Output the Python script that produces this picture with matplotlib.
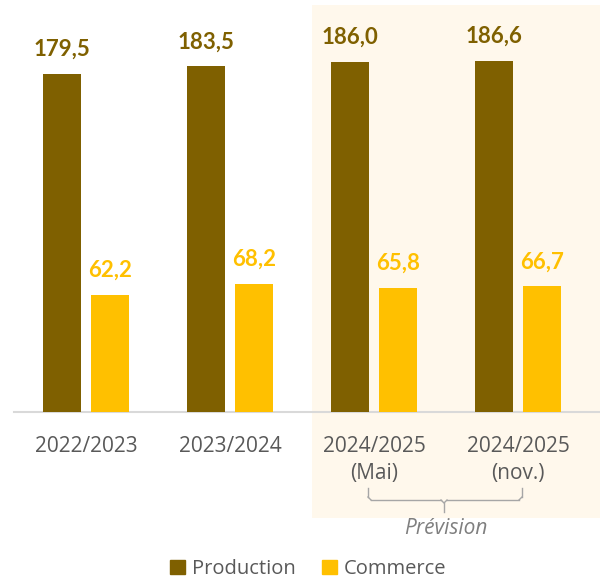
import matplotlib
matplotlib.use("Agg")
import matplotlib.pyplot as plt
from matplotlib.patches import Rectangle
from matplotlib.lines import Line2D
import numpy as np

categories = ["2022/2023", "2023/2024", "2024/2025\n(Mai)", "2024/2025\n(nov.)"]
production = [179.5, 183.5, 186.0, 186.6]
commerce = [62.2, 68.2, 65.8, 66.7]
series_names = ["Production", "Commerce"]
forecast_label = "Prévision"

C_PROD = "#7F6000"
C_COMM = "#FFC000"
C_TEXT = "#595959"

W, H = 600, 580
fig = plt.figure(figsize=(W / 100, H / 100), dpi=100)

def fx(px):
    return px / W

def fy(py):
    return 1 - py / H

# shaded forecast background
fig.patches.append(Rectangle((fx(312), fy(518)), fx(600) - fx(312), fy(5) - fy(518),
                             transform=fig.transFigure, facecolor="#FFF8EC",
                             edgecolor="none", zorder=-5))

base_px = 412
top_px = 5
ax = fig.add_axes([fx(14), fy(base_px), fx(600) - fx(14), fy(top_px) - fy(base_px)])
ax.set_zorder(1)
ax.set_facecolor("none")
ax.patch.set_alpha(0)

px_per_group = 144.0
center0 = 86.0
ax.set_xlim((14 - center0) / px_per_group, (600 - center0) / px_per_group)
scale = 1.883
ax.set_ylim(0, (base_px - top_px) / scale)

x = np.arange(len(categories))
bw = 38 / px_per_group
off = 24.3 / px_per_group
ax.bar(x - off, production, bw, color=C_PROD, zorder=3)
ax.bar(x + off, commerce, bw, color=C_COMM, zorder=3)

for xi, v in zip(x, production):
    ax.text(xi - off, v + 7.5, f"{v:.1f}".replace(".", ","), ha="center", va="bottom",
            fontsize=16, fontweight="bold", color=C_PROD, family="Lato")
for xi, v in zip(x, commerce):
    ax.text(xi + off, v + 7.5, f"{v:.1f}".replace(".", ","), ha="center", va="bottom",
            fontsize=16, fontweight="bold", color=C_COMM, family="Lato")

for s in ["top", "right", "left"]:
    ax.spines[s].set_visible(False)
ax.spines["bottom"].set_color("#D9D9D9")
ax.spines["bottom"].set_linewidth(1.5)
ax.set_yticks([])
ax.set_xticks(x)
ax.set_xticklabels(categories, fontsize=15, color=C_TEXT, family="Open Sans",
                   linespacing=1.4, va="top")
ax.tick_params(axis="x", length=0, pad=17)

# brace
bc = "#A6A6A6"
lw = 1.0
def L(xs, ys):
    fig.add_artist(Line2D([fx(v) for v in xs], [fy(v) for v in ys],
                          transform=fig.transFigure, color=bc, lw=lw, zorder=5))
L([368, 368], [488, 497])
L([522, 522], [488, 497])
L([371, 441], [500, 500])
L([447, 519], [500, 500])
L([368, 371], [497, 500])
L([522, 519], [497, 500])
L([441, 444, 447], [500, 503, 500])
L([444, 444], [503, 512])

fig.text(fx(446), fy(528), forecast_label, ha="center", va="center", fontsize=15,
         style="italic", color="#7F7F7F", family="Open Sans")

# legend
handles = [Rectangle((0, 0), 1, 1, color=C_PROD), Rectangle((0, 0), 1, 1, color=C_COMM)]
fig.legend(handles, series_names, loc="center", bbox_to_anchor=(fx(308), fy(569)),
           ncol=2, frameon=False, handlelength=0.75, handleheight=0.75,
           handletextpad=0.35, columnspacing=1.3, borderaxespad=0,
           prop={"family": "Open Sans", "size": 14.5}, labelcolor=C_TEXT)

fig.savefig("out.png", dpi=100)
